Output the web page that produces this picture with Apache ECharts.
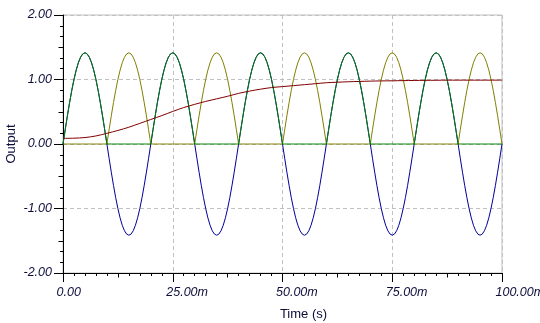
<!DOCTYPE html>
<html>
<head>
<meta charset="utf-8">
<script src="https://cdn.jsdelivr.net/npm/echarts@6/dist/echarts.min.js"></script>
<style>
  html, body { margin: 0; padding: 0; background: #ffffff; }
  #chart { width: 540px; height: 323px; }
</style>
</head>
<body>
<div id="chart"></div>
<script>
// Sample times in ms (0.5 ms step) for the three waveform traces
const timeMs = [
  0,0.5,1,1.5,2,2.5,3,3.5,4,4.5,5,5.5,6,6.5,7,7.5,8,8.5,9,9.5,
  10,10.5,11,11.5,12,12.5,13,13.5,14,14.5,15,15.5,16,16.5,17,17.5,18,18.5,19,19.5,
  20,20.5,21,21.5,22,22.5,23,23.5,24,24.5,25,25.5,26,26.5,27,27.5,28,28.5,29,29.5,
  30,30.5,31,31.5,32,32.5,33,33.5,34,34.5,35,35.5,36,36.5,37,37.5,38,38.5,39,39.5,
  40,40.5,41,41.5,42,42.5,43,43.5,44,44.5,45,45.5,46,46.5,47,47.5,48,48.5,49,49.5,
  50,50.5,51,51.5,52,52.5,53,53.5,54,54.5,55,55.5,56,56.5,57,57.5,58,58.5,59,59.5,
  60,60.5,61,61.5,62,62.5,63,63.5,64,64.5,65,65.5,66,66.5,67,67.5,68,68.5,69,69.5,
  70,70.5,71,71.5,72,72.5,73,73.5,74,74.5,75,75.5,76,76.5,77,77.5,78,78.5,79,79.5,
  80,80.5,81,81.5,82,82.5,83,83.5,84,84.5,85,85.5,86,86.5,87,87.5,88,88.5,89,89.5,
  90,90.5,91,91.5,92,92.5,93,93.5,94,94.5,95,95.5,96,96.5,97,97.5,98,98.5,99,99.5,
  100
];

// Source sine wave (V)
const sourceV = [
  0,0.221,0.437,0.642,0.831,1.000,1.144,1.260,1.345,1.397,1.414,1.397,1.345,1.260,1.144,1.000,0.831,0.642,0.437,0.221,
  0,-0.221,-0.437,-0.642,-0.831,-1.000,-1.144,-1.260,-1.345,-1.397,-1.414,-1.397,-1.345,-1.260,-1.144,-1.000,-0.831,-0.642,-0.437,-0.221,
  0,0.221,0.437,0.642,0.831,1.000,1.144,1.260,1.345,1.397,1.414,1.397,1.345,1.260,1.144,1.000,0.831,0.642,0.437,0.221,
  0,-0.221,-0.437,-0.642,-0.831,-1.000,-1.144,-1.260,-1.345,-1.397,-1.414,-1.397,-1.345,-1.260,-1.144,-1.000,-0.831,-0.642,-0.437,-0.221,
  0,0.221,0.437,0.642,0.831,1.000,1.144,1.260,1.345,1.397,1.414,1.397,1.345,1.260,1.144,1.000,0.831,0.642,0.437,0.221,
  0,-0.221,-0.437,-0.642,-0.831,-1.000,-1.144,-1.260,-1.345,-1.397,-1.414,-1.397,-1.345,-1.260,-1.144,-1.000,-0.831,-0.642,-0.437,-0.221,
  0,0.221,0.437,0.642,0.831,1.000,1.144,1.260,1.345,1.397,1.414,1.397,1.345,1.260,1.144,1.000,0.831,0.642,0.437,0.221,
  0,-0.221,-0.437,-0.642,-0.831,-1.000,-1.144,-1.260,-1.345,-1.397,-1.414,-1.397,-1.345,-1.260,-1.144,-1.000,-0.831,-0.642,-0.437,-0.221,
  0,0.221,0.437,0.642,0.831,1.000,1.144,1.260,1.345,1.397,1.414,1.397,1.345,1.260,1.144,1.000,0.831,0.642,0.437,0.221,
  0,-0.221,-0.437,-0.642,-0.831,-1.000,-1.144,-1.260,-1.345,-1.397,-1.414,-1.397,-1.345,-1.260,-1.144,-1.000,-0.831,-0.642,-0.437,-0.221,
  0
];

// Negative half-wave, inverted (V)
const negHalfV = [
  0,0,0,0,0,0,0,0,0,0,0,0,0,0,0,0,0,0,0,0,
  0,0.221,0.437,0.642,0.831,1.000,1.144,1.260,1.345,1.397,1.414,1.397,1.345,1.260,1.144,1.000,0.831,0.642,0.437,0.221,
  0,0,0,0,0,0,0,0,0,0,0,0,0,0,0,0,0,0,0,0,
  0,0.221,0.437,0.642,0.831,1.000,1.144,1.260,1.345,1.397,1.414,1.397,1.345,1.260,1.144,1.000,0.831,0.642,0.437,0.221,
  0,0,0,0,0,0,0,0,0,0,0,0,0,0,0,0,0,0,0,0,
  0,0.221,0.437,0.642,0.831,1.000,1.144,1.260,1.345,1.397,1.414,1.397,1.345,1.260,1.144,1.000,0.831,0.642,0.437,0.221,
  0,0,0,0,0,0,0,0,0,0,0,0,0,0,0,0,0,0,0,0,
  0,0.221,0.437,0.642,0.831,1.000,1.144,1.260,1.345,1.397,1.414,1.397,1.345,1.260,1.144,1.000,0.831,0.642,0.437,0.221,
  0,0,0,0,0,0,0,0,0,0,0,0,0,0,0,0,0,0,0,0,
  0,0.221,0.437,0.642,0.831,1.000,1.144,1.260,1.345,1.397,1.414,1.397,1.345,1.260,1.144,1.000,0.831,0.642,0.437,0.221,
  0
];

// Positive half-wave (V)
const posHalfV = [
  0,0.221,0.437,0.642,0.831,1.000,1.144,1.260,1.345,1.397,1.414,1.397,1.345,1.260,1.144,1.000,0.831,0.642,0.437,0.221,
  0,0,0,0,0,0,0,0,0,0,0,0,0,0,0,0,0,0,0,0,
  0,0.221,0.437,0.642,0.831,1.000,1.144,1.260,1.345,1.397,1.414,1.397,1.345,1.260,1.144,1.000,0.831,0.642,0.437,0.221,
  0,0,0,0,0,0,0,0,0,0,0,0,0,0,0,0,0,0,0,0,
  0,0.221,0.437,0.642,0.831,1.000,1.144,1.260,1.345,1.397,1.414,1.397,1.345,1.260,1.144,1.000,0.831,0.642,0.437,0.221,
  0,0,0,0,0,0,0,0,0,0,0,0,0,0,0,0,0,0,0,0,
  0,0.221,0.437,0.642,0.831,1.000,1.144,1.260,1.345,1.397,1.414,1.397,1.345,1.260,1.144,1.000,0.831,0.642,0.437,0.221,
  0,0,0,0,0,0,0,0,0,0,0,0,0,0,0,0,0,0,0,0,
  0,0.221,0.437,0.642,0.831,1.000,1.144,1.260,1.345,1.397,1.414,1.397,1.345,1.260,1.144,1.000,0.831,0.642,0.437,0.221,
  0,0,0,0,0,0,0,0,0,0,0,0,0,0,0,0,0,0,0,0,
  0
];

// Slow settling output, sampled every 2.5 ms
const settleTimeMs = [
  0,2.5,5,7.5,10,12.5,15,17.5,20,22.5,25,27.5,30,32.5,35,37.5,40,42.5,45,47.5,
  50,52.5,55,57.5,60,62.5,65,67.5,70,72.5,75,77.5,80,82.5,85,87.5,90,92.5,95,97.5,100
];
const settleV = [
  0.087,0.090,0.100,0.125,0.165,0.210,0.260,0.320,0.380,0.440,0.505,0.565,0.615,0.660,0.700,0.740,0.785,0.820,0.850,0.875,
  0.890,0.905,0.920,0.935,0.950,0.958,0.965,0.970,0.975,0.978,0.980,0.983,0.985,0.987,0.988,0.990,0.990,0.990,0.990,0.990,0.990
];

// Axis tick values
const xTicks = [0, 25, 50, 75, 100];
const yTicks = [-2, -1, 0, 1, 2];

function pairs(xs, ys) {
  return xs.map((x, i) => [x, ys[i]]);
}

const labelColor = '#0c0c3a';
const tickFont = {
  fontFamily: 'Liberation Sans, Arial, sans-serif',
  fontStyle: 'italic',
  fontSize: 12.5,
  color: labelColor
};

const chart = echarts.init(document.getElementById('chart'), null, { renderer: 'canvas' });

const option = {
  animation: false,
  backgroundColor: '#ffffff',
  grid: {
    left: 63, right: 38, top: 15, bottom: 50,
    outerBoundsMode: 'none',
    containLabel: false,
    show: true, borderColor: '#c0c0c0', borderWidth: 1, backgroundColor: 'transparent'
  },
  xAxis: [
    {
      type: 'value',
      min: xTicks[0], max: xTicks[xTicks.length - 1], interval: xTicks[1] - xTicks[0],
      position: 'bottom',
      name: 'Time (s)',
      nameLocation: 'middle',
      nameGap: 35,
      nameMoveOverlap: false,
      nameTextStyle: {
        fontFamily: 'Liberation Sans, Arial, sans-serif', fontSize: 13, color: labelColor,
        padding: [0, 0, 0, 42]
      },
      axisLine: { show: true, onZero: false, lineStyle: { color: '#000000', width: 1 } },
      axisTick: { show: true, inside: false, length: 9, lineStyle: { color: '#000000' } },
      minorTick: { show: true, splitNumber: 10, length: 3, lineStyle: { color: '#000000' } },
      splitLine: { show: true, lineStyle: { color: '#c0c0c0', type: [4, 3], width: 1 } },
      axisLabel: Object.assign({
        margin: 13,
        align: 'left',
        padding: [0, 0, 0, -6.5],
        showMaxLabel: true,
        formatter: v => v === 0 ? '0.00' : v.toFixed(2) + 'm'
      }, tickFont)
    },
    {
      // half-step ticks at 12.5 ms
      type: 'value',
      min: xTicks[0], max: xTicks[xTicks.length - 1], interval: (xTicks[1] - xTicks[0]) / 2,
      position: 'bottom',
      axisLine: { show: false, onZero: false },
      axisTick: { show: true, inside: false, length: 4.5, lineStyle: { color: '#000000' } },
      axisLabel: { show: false },
      splitLine: { show: false }
    }
  ],
  yAxis: [
    {
      type: 'value',
      min: yTicks[0], max: yTicks[yTicks.length - 1], interval: yTicks[1] - yTicks[0],
      position: 'left',
      name: 'Output',
      nameLocation: 'middle',
      nameGap: 45,
      nameMoveOverlap: false,
      nameRotate: 90,
      nameTextStyle: { fontFamily: 'Liberation Sans, Arial, sans-serif', fontSize: 13, color: labelColor },
      axisLine: { show: true, onZero: false, lineStyle: { color: '#000000', width: 1 } },
      axisTick: { show: true, inside: false, length: 9, lineStyle: { color: '#000000' } },
      minorTick: { show: true, splitNumber: 6, length: 3, lineStyle: { color: '#000000' } },
      splitLine: { show: true, lineStyle: { color: '#c0c0c0', type: [4, 3], width: 1 } },
      axisLabel: Object.assign({
        margin: 11,
        formatter: v => v.toFixed(2)
      }, tickFont)
    },
    {
      // half-step ticks at 0.5
      type: 'value',
      min: yTicks[0], max: yTicks[yTicks.length - 1], interval: (yTicks[1] - yTicks[0]) / 2,
      position: 'left',
      axisLine: { show: false, onZero: false },
      axisTick: { show: true, inside: false, length: 4.5, lineStyle: { color: '#000000' } },
      axisLabel: { show: false },
      splitLine: { show: false }
    }
  ],
  series: [
    {
      name: 'Source',
      type: 'line',
      data: pairs(timeMs, sourceV),
      showSymbol: false,
      lineStyle: { color: '#00009c', width: 1 },
      z: 2
    },
    {
      name: 'Negative half',
      type: 'line',
      data: pairs(timeMs, negHalfV),
      showSymbol: false,
      lineStyle: { color: '#808000', width: 1 },
      z: 3
    },
    {
      name: 'Positive half',
      type: 'line',
      data: pairs(timeMs, posHalfV),
      showSymbol: false,
      lineStyle: { color: '#008000', width: 1 },
      z: 4
    },
    {
      name: 'Settling',
      type: 'line',
      data: pairs(settleTimeMs, settleV),
      showSymbol: false,
      smooth: 0.3,
      lineStyle: { color: '#800000', width: 1 },
      z: 5
    }
  ]
};

chart.setOption(option);
</script>
</body>
</html>
